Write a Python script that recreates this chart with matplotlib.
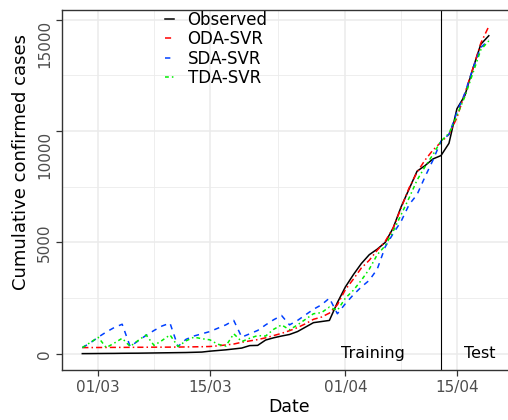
import numpy as np
import pandas as pd
import matplotlib
matplotlib.use("Agg")
import matplotlib.pyplot as plt
import matplotlib.dates as mdates

# daily series, 28/02/2020 .. 19/04/2020
dates = pd.date_range("2020-02-28", "2020-04-19", freq="D")

observed = [10, 12, 15, 18, 20, 25, 28, 30, 35, 40, 45, 50, 55, 60, 70, 80,
            120, 150, 180, 220, 260, 370, 380, 620, 720, 800, 870, 1000, 1200, 1400, 1450, 1500,
            2300, 3000, 3550, 4050, 4450, 4700, 5000, 5650, 6600, 7400, 8200, 8450, 8750, 8900,
            9450, 11000, 11600, 12800, 13900, 14280]

oda_svr = [280, 282, 285, 287, 290, 290, 292, 295, 297, 300, 300, 302, 305, 310, 315, 320,
           330, 360, 400, 440, 520, 580, 640, 720, 820, 920, 1040, 1180, 1350, 1550, 1650, 1830,
           2200, 2880, 3350, 3850, 4200, 4650, 5050, 5650, 6550, 7450, 8150, 8700, 9150, 9500,
           9850, 10600, 11700, 12800, 13950, 14700]

sda_svr = [280, 490, 750, 980, 1180, 1330, 330, 580, 830, 1050, 1250, 1380, 330, 650, 800, 900,
           1000, 1150, 1300, 1500, 750, 900, 1050, 1300, 1530, 1720, 1300, 1500, 1750, 2000, 2200, 2500,
           1800, 2250, 2650, 3000, 3300, 3800, 4800, 5400, 5950, 6700, 7150, 7950, 8700, 9550,
           9850, 10850, 11700, 12800, 13750, 14100]

tda_svr = [280, 510, 740, 280, 480, 700, 330, 600, 850, 380, 600, 850, 330, 580, 750, 680,
           630, 430, 350, 900, 550, 700, 820, 800, 1100, 1300, 1080, 1300, 1550, 1800, 1850, 2100,
           1950, 2500, 2850, 3300, 3800, 4450, 4850, 5500, 6250, 7000, 7800, 8400, 8950, 9550,
           9900, 10700, 11550, 12600, 13650, 14050]

split_date = pd.Timestamp("2020-04-13")
xtick_dates = pd.to_datetime(["2020-03-01", "2020-03-15", "2020-04-01", "2020-04-15"])
xminor_dates = [pd.Timestamp("2020-03-08"), pd.Timestamp("2020-03-23 12:00"),
                pd.Timestamp("2020-04-08"), pd.Timestamp("2020-04-22 12:00")]
yticks = [0, 5000, 10000, 15000]
yminor = [2500, 7500, 12500]

W, H = 508, 420
fig = plt.figure(figsize=(W / 100, H / 100), dpi=100)
# panel runs a little past the right edge of the picture
left, right, top, bottom = 62, 516.7, 10, 370
ax = fig.add_axes([left / W, 1 - bottom / H, (right - left) / W, (bottom - top) / H])

ax.plot(dates, observed, color="black", lw=1.1, label="Observed")
ax.plot(dates, oda_svr, color="#FF0000", lw=1.1, ls=(0, (4, 2, 1, 2)), label="ODA-SVR")
ax.plot(dates, sda_svr, color="#0040FF", lw=1.1, ls=(0, (3.5, 3.5)), label="SDA-SVR")
ax.plot(dates, tda_svr, color="#00EE00", lw=1.1, ls=(0, (2.5, 2, 1, 2)), label="TDA-SVR")

ax.axvline(split_date, color="black", lw=0.8)
ax.text(pd.Timestamp("2020-04-04 10:00"), 0, "Training", ha="center", va="center", fontsize=11.5)
ax.text(pd.Timestamp("2020-04-17 22:00"), 0, "Test", ha="center", va="center", fontsize=11.5)

# ggplot-like 5% expansion
span = dates[-1] - dates[0]
ax.set_xlim(dates[0] - span * 0.05, dates[-1] + span * 0.05)
ax.set_ylim(-725, 15435)

ax.set_xticks(xtick_dates)
ax.xaxis.set_major_formatter(mdates.DateFormatter("%d/%m"))
ax.set_xticks(xminor_dates, minor=True)
ax.set_yticks(yticks)
ax.set_yticks(yminor, minor=True)
ax.set_yticklabels([str(v) for v in yticks], rotation=90)
# long labels hang below their tick, short ones are centred
for lab, v in zip(ax.get_yticklabels(), yticks):
    lab.set_va("top" if v >= 10000 else "center")

ax.grid(True, which="major", color="#EBEBEB", lw=1.1)
ax.grid(True, which="minor", color="#EBEBEB", lw=0.6)
ax.set_axisbelow(True)
for s in ax.spines.values():
    s.set_color("#333333")
    s.set_linewidth(1.0)
ax.tick_params(which="major", length=4, width=0.9, color="#333333", labelcolor="#4D4D4D",
               labelsize=11)
ax.tick_params(axis="y", pad=3)
ax.tick_params(axis="x", pad=3)
ax.tick_params(which="minor", length=0)

ax.set_xlabel("Date", fontsize=12.5, labelpad=2)
fig.text(21 / W, 1 - 162 / H, "Cumulative confirmed cases", rotation=90,
         ha="center", va="center", fontsize=13)

ax.legend(loc="upper left", bbox_to_anchor=(165 / W, 1 - 11 / H), bbox_transform=fig.transFigure,
          frameon=False, fontsize=12, handlelength=0.55, handletextpad=0.8,
          labelspacing=0.08, borderaxespad=0, borderpad=0)

fig.savefig("out.png", dpi=100)
